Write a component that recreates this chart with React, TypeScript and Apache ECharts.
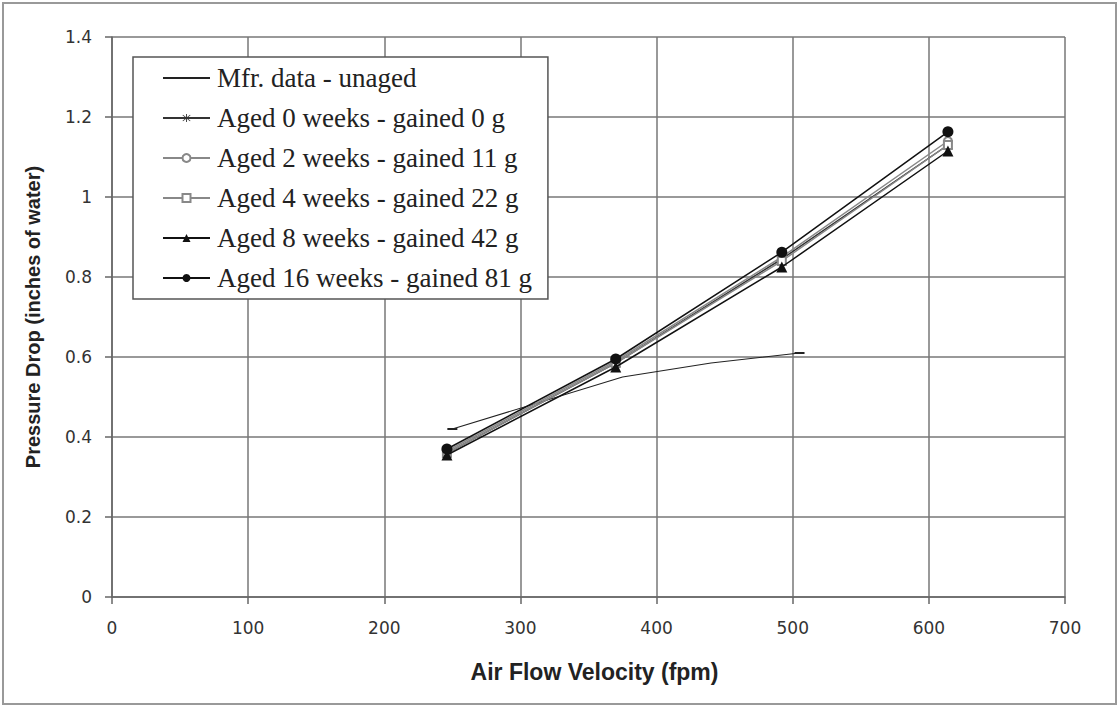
import React, { useEffect, useRef } from "react";
import * as echarts from "echarts";

const velocity = [246, 370, 492, 614];
const mfrVelocity = [250, 375, 440, 505];
const mfrDrop = [0.42, 0.55, 0.585, 0.61];
const aged0 = [0.36, 0.585, 0.845, 1.13];
const aged2 = [0.365, 0.59, 0.85, 1.14];
const aged4 = [0.36, 0.585, 0.84, 1.13];
const aged8 = [0.355, 0.575, 0.825, 1.115];
const aged16 = [0.37, 0.595, 0.862, 1.163];
const seriesNames = [
  "Mfr. data - unaged",
  "Aged 0 weeks - gained 0 g",
  "Aged 2 weeks - gained 11 g",
  "Aged 4 weeks - gained 22 g",
  "Aged 8 weeks - gained 42 g",
  "Aged 16 weeks - gained 81 g",
];

const ASTERISK =
  "path://M-8,-7 L-7,-8 L8,7 L7,8 Z M8,-7 L7,-8 L-8,7 L-7,8 Z M-0.9,-10 L0.9,-10 L0.9,10 L-0.9,10 Z";
const DASH = "path://M-5,-5 L-5,-5 Z M5,5 L5,5 Z M-5,-0.9 L5,-0.9 L5,0.9 L-5,0.9 Z";

const pair = (xs: number[], ys: number[]) => xs.map((x, i) => [x, ys[i]]);

export default function App() {
  const ref = useRef<HTMLDivElement>(null);
  useEffect(() => {
    if (!ref.current) return;
    const chart = echarts.init(ref.current, undefined, { renderer: "svg" });
    const mk = (
      name: string,
      data: any[],
      color: string,
      symbol: string,
      symbolSize: any,
      z: number,
      width = 1.5
    ) => ({
      name,
      type: "line",
      data,
      symbol,
      symbolSize,
      showSymbol: true,
      z,
      lineStyle: { color, width },
      itemStyle: { color },
      emphasis: { disabled: true },
    });
    const mfrData = pair(mfrVelocity, mfrDrop).map((v, i, arr) =>
      i === 0 || i === arr.length - 1 ? { value: v } : { value: v, symbol: "none" }
    );
    chart.setOption({
      animation: false,
      backgroundColor: "#fff",
      textStyle: { fontFamily: "Liberation Sans" },
      grid: { left: 112, right: 55, top: 37, bottom: 111 },
      xAxis: {
        type: "value",
        min: 0,
        max: 700,
        interval: 100,
        name: "Air Flow Velocity (fpm)",
        nameLocation: "middle",
        nameGap: 63,
        nameTextStyle: {
          fontSize: 23,
          fontWeight: "bold",
          color: "#222",
          fontFamily: "Liberation Sans",
          padding: [0, 0, 0, 12],
        },
        axisLine: { show: true, lineStyle: { color: "#666", width: 1.5 } },
        axisTick: { show: true, length: 7, lineStyle: { color: "#666", width: 1.5 } },
        axisLabel: { fontSize: 17, color: "#333", margin: 22, fontFamily: "DejaVu Sans" },
        splitLine: { show: true, lineStyle: { color: "#777", width: 1.5 } },
      },
      yAxis: {
        type: "value",
        min: 0,
        max: 1.4,
        interval: 0.2,
        name: "Pressure Drop (inches of water)",
        nameLocation: "middle",
        nameGap: 69,
        nameTextStyle: { fontSize: 20, fontWeight: "bold", color: "#222", fontFamily: "Liberation Sans" },
        axisLine: { show: true, lineStyle: { color: "#666", width: 1.5 } },
        axisTick: { show: true, length: 7, lineStyle: { color: "#666", width: 1.5 } },
        axisLabel: { fontSize: 17, color: "#333", margin: 20, fontFamily: "DejaVu Sans" },
        splitLine: { show: true, lineStyle: { color: "#777", width: 1.5 } },
      },
      legend: {
        orient: "vertical",
        left: 133,
        top: 57,
        backgroundColor: "#fff",
        borderColor: "#555",
        borderWidth: 1.5,
        padding: [7, 16, 7, 29],
        itemWidth: 47,
        itemHeight: 10,
        itemGap: 12,
        textStyle: {
          fontFamily: "'Liberation Serif', 'DejaVu Serif', serif",
          fontSize: 27,
          lineHeight: 28,
          letterSpacing: 0.4,
          color: "#222",
          padding: [0, 0, 0, 2],
        },
        data: seriesNames,
      },
      graphic: [
        {
          type: "rect",
          shape: { x: 3, y: 3, width: 1113, height: 701 },
          style: { fill: "none", stroke: "#999", lineWidth: 2 },
          silent: true,
          z: 100,
        },
      ],
      series: [
        mk(seriesNames[0], mfrData, "#222", DASH, 10, 2, 1.1),
        mk(seriesNames[1], pair(velocity, aged0), "#333", ASTERISK, 10, 3),
        mk(seriesNames[2], pair(velocity, aged2), "#888", "emptyCircle", 8, 4),
        mk(seriesNames[3], pair(velocity, aged4), "#888", "emptyRect", 8, 5),
        mk(seriesNames[4], pair(velocity, aged8), "#111", "triangle", 11, 6),
        mk(seriesNames[5], pair(velocity, aged16), "#111", "circle", 11, 7),
      ],
    });
    return () => chart.dispose();
  }, []);
  return (
    <div
      ref={ref}
      style={{ position: "fixed", left: 0, top: 0, width: 1120, height: 708 }}
    />
  );
}
